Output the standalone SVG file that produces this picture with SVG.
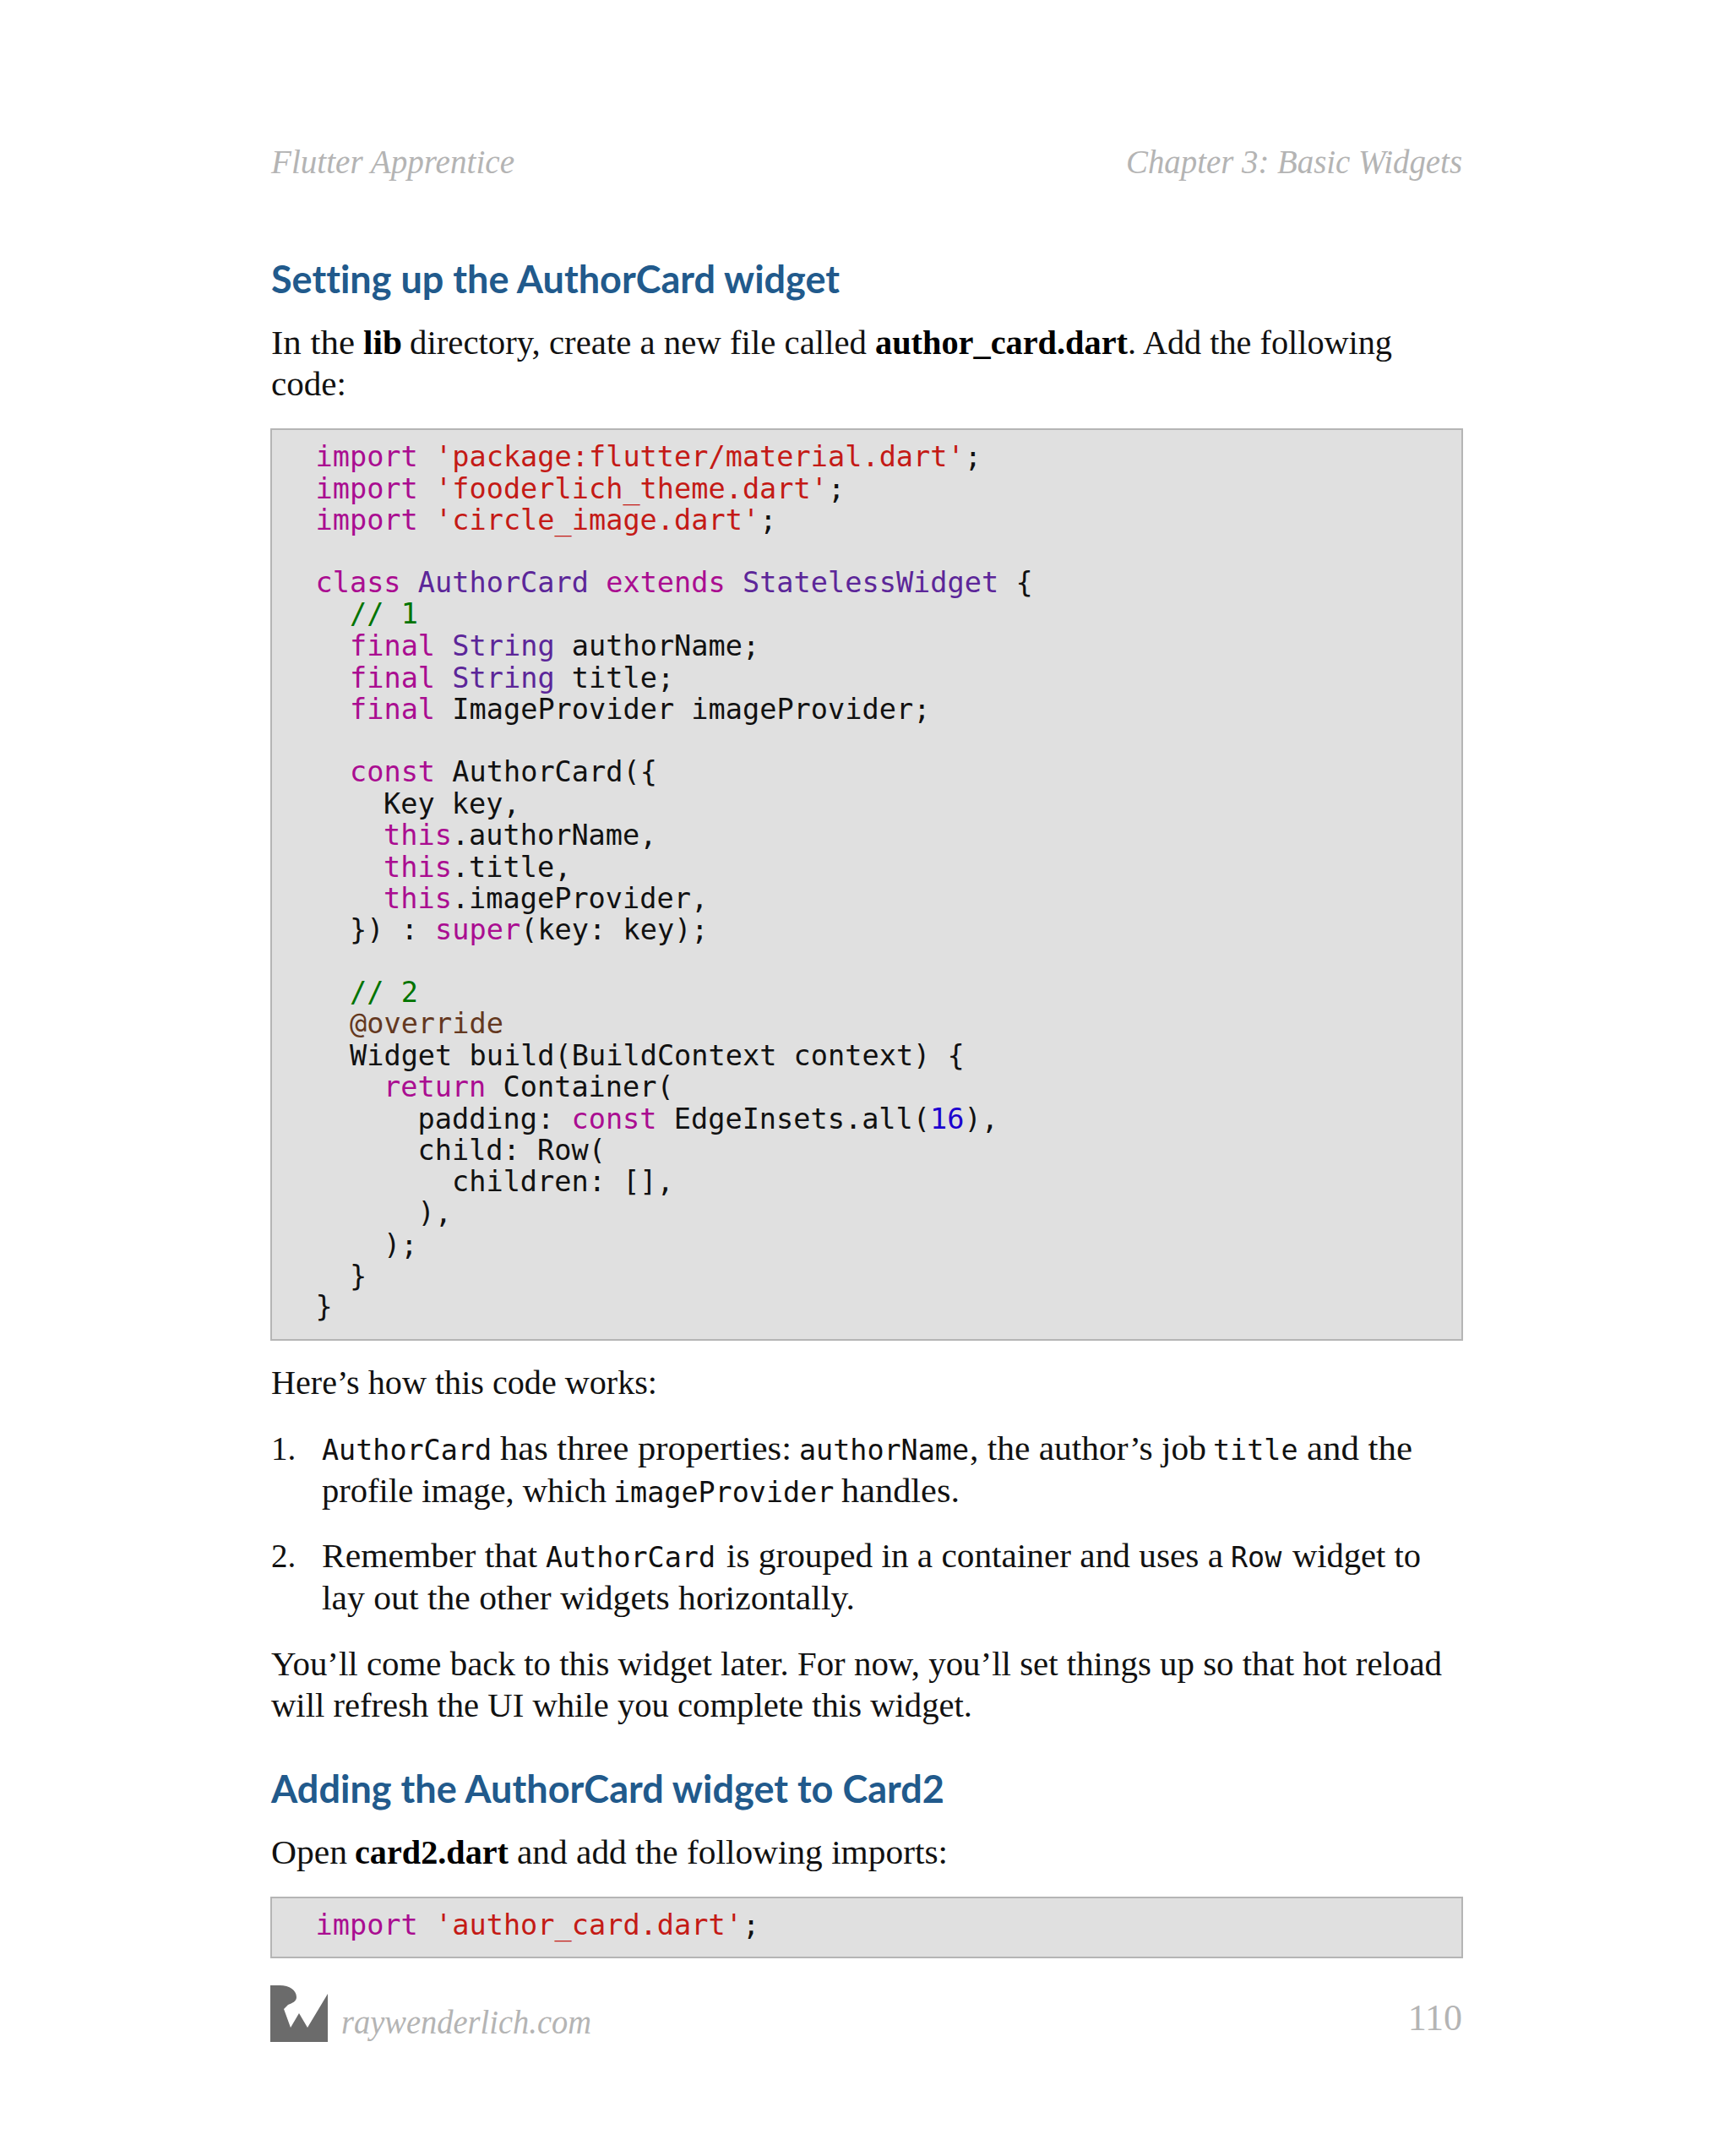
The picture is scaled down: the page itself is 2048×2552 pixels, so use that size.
<svg xmlns="http://www.w3.org/2000/svg" width="2048" height="2552" viewBox="0 0 2048 2552">
<style>
.b{font-family:"Liberation Serif",serif;font-size:39px;fill:#111}
.bb{font-family:"Liberation Serif",serif;font-size:39px;font-weight:700;fill:#000}
.m{font-family:"DejaVu Sans Mono",monospace;font-size:33.6px;fill:#111}
.i{font-family:"DejaVu Sans Mono",monospace;font-size:33.4px;fill:#111}
.h{font-family:Lato,sans-serif;font-size:46px;font-weight:700;fill:#215a8c;font-variant-ligatures:none}
.g{font-family:"Liberation Serif",serif;font-size:39px;font-style:italic;fill:#b4b4b4}
.box{fill:#e0e0e0;stroke:#b5b5b5;stroke-width:2}
.k{fill:#aa0d91}.s{fill:#c41a16}.c{fill:#007400}.t{fill:#5c2699}.n{fill:#1c00cf}.a{fill:#643820}
</style>
<rect width="2048" height="2552" fill="#fff"/>
<g id="page-header">
<text class="g" x="321" y="205" textLength="288" lengthAdjust="spacingAndGlyphs">Flutter Apprentice</text>
<text class="g" x="1333" y="205" textLength="398" lengthAdjust="spacingAndGlyphs">Chapter 3: Basic Widgets</text>
</g>
<g id="section-1">
<text class="h" x="321" y="347" textLength="673" lengthAdjust="spacingAndGlyphs">Setting up the AuthorCard widget</text>
<text class="b" x="321" y="419" textLength="99" lengthAdjust="spacingAndGlyphs">In the</text>
<text class="bb" x="430" y="419" textLength="46" lengthAdjust="spacingAndGlyphs">lib</text>
<text class="b" x="485" y="419" textLength="541" lengthAdjust="spacingAndGlyphs">directory, create a new file called</text>
<text class="bb" x="1036" y="419" textLength="299" lengthAdjust="spacingAndGlyphs">author_card.dart</text>
<text class="b" x="1335" y="419" textLength="313" lengthAdjust="spacingAndGlyphs">. Add the following</text>
<text class="b" x="321" y="468" textLength="89" lengthAdjust="spacingAndGlyphs">code:</text>
</g>
<g id="code-block-1">
<rect class="box" x="321" y="508" width="1410" height="1078"/>
<text class="m" x="373.5" y="552"><tspan class="k">import</tspan> <tspan class="s">'package:flutter/material.dart'</tspan>;</text>
<text class="m" x="373.5" y="590"><tspan class="k">import</tspan> <tspan class="s">'fooderlich_theme.dart'</tspan>;</text>
<text class="m" x="373.5" y="627"><tspan class="k">import</tspan> <tspan class="s">'circle_image.dart'</tspan>;</text>
<text class="m" x="373.5" y="701"><tspan class="k">class</tspan> <tspan class="t">AuthorCard</tspan> <tspan class="k">extends</tspan> <tspan class="t">StatelessWidget</tspan> {</text>
<text class="m c" x="414" y="738">// 1</text>
<text class="m" x="414" y="776"><tspan class="k">final</tspan> <tspan class="t">String</tspan> authorName;</text>
<text class="m" x="414" y="814"><tspan class="k">final</tspan> <tspan class="t">String</tspan> title;</text>
<text class="m" x="414" y="851"><tspan class="k">final</tspan> ImageProvider imageProvider;</text>
<text class="m" x="414" y="925"><tspan class="k">const</tspan> AuthorCard({</text>
<text class="m" x="454" y="963">Key key,</text>
<text class="m" x="454" y="1000"><tspan class="k">this</tspan>.authorName,</text>
<text class="m" x="454" y="1038"><tspan class="k">this</tspan>.title,</text>
<text class="m" x="454" y="1075"><tspan class="k">this</tspan>.imageProvider,</text>
<text class="m" x="414" y="1112">}) : <tspan class="k">super</tspan>(key: key);</text>
<text class="m c" x="414" y="1186">// 2</text>
<text class="m a" x="414" y="1223">@override</text>
<text class="m" x="414" y="1261">Widget build(BuildContext context) {</text>
<text class="m" x="454" y="1298"><tspan class="k">return</tspan> Container(</text>
<text class="m" x="494.5" y="1336">padding: <tspan class="k">const</tspan> EdgeInsets.all(<tspan class="n">16</tspan>),</text>
<text class="m" x="494.5" y="1373">child: Row(</text>
<text class="m" x="535" y="1410">children: [],</text>
<text class="m" x="494.5" y="1447">),</text>
<text class="m" x="454" y="1485">);</text>
<text class="m" x="414" y="1522">}</text>
<text class="m" x="373.5" y="1558">}</text>
</g>
<g id="explanation">
<text class="b" x="321" y="1650" textLength="457" lengthAdjust="spacingAndGlyphs">Here’s how this code works:</text>
<text class="b" x="321" y="1728">1.</text>
<text class="i" x="381" y="1728">AuthorCard</text>
<text class="b" x="592" y="1728" textLength="345" lengthAdjust="spacingAndGlyphs">has three properties:</text>
<text class="i" x="946" y="1728">authorName</text>
<text class="b" x="1148" y="1728" textLength="280" lengthAdjust="spacingAndGlyphs">, the author’s job</text>
<text class="i" x="1436" y="1728">title</text>
<text class="b" x="1547" y="1728" textLength="125" lengthAdjust="spacingAndGlyphs">and the</text>
<text class="b" x="381" y="1778" textLength="337" lengthAdjust="spacingAndGlyphs">profile image, which</text>
<text class="i" x="726" y="1778">imageProvider</text>
<text class="b" x="996" y="1778" textLength="140" lengthAdjust="spacingAndGlyphs">handles.</text>
<text class="b" x="321" y="1855">2.</text>
<text class="b" x="381" y="1855" textLength="255" lengthAdjust="spacingAndGlyphs">Remember that</text>
<text class="i" x="646" y="1855">AuthorCard</text>
<text class="b" x="860" y="1855" textLength="588" lengthAdjust="spacingAndGlyphs">is grouped in a container and uses a</text>
<text class="i" x="1457" y="1855">Row</text>
<text class="b" x="1530" y="1855" textLength="152" lengthAdjust="spacingAndGlyphs">widget to</text>
<text class="b" x="381" y="1905" textLength="631" lengthAdjust="spacingAndGlyphs">lay out the other widgets horizontally.</text>
<text class="b" x="321" y="1983" textLength="1386" lengthAdjust="spacingAndGlyphs">You’ll come back to this widget later. For now, you’ll set things up so that hot reload</text>
<text class="b" x="321" y="2032" textLength="830" lengthAdjust="spacingAndGlyphs">will refresh the UI while you complete this widget.</text>
</g>
<g id="section-2">
<text class="h" x="321" y="2134" textLength="797" lengthAdjust="spacingAndGlyphs">Adding the AuthorCard widget to Card2</text>
<text class="b" x="321" y="2206" textLength="90" lengthAdjust="spacingAndGlyphs">Open</text>
<text class="bb" x="420" y="2206" textLength="182" lengthAdjust="spacingAndGlyphs">card2.dart</text>
<text class="b" x="612" y="2206" textLength="510" lengthAdjust="spacingAndGlyphs">and add the following imports:</text>
</g>
<g id="code-block-2">
<rect class="box" x="321" y="2246" width="1410" height="71"/>
<text class="m" x="373.5" y="2290"><tspan class="k">import</tspan> <tspan class="s">'author_card.dart'</tspan>;</text>
</g>
<g id="page-footer">
<path id="logo" fill="#6b6b6b" d="M320 2350H331C343 2350 351 2356 351 2364C351 2369 346 2371 341 2373L336 2378L344 2400L354 2383L364 2400L388 2360V2417H320Z"/>
<text class="g" x="404" y="2407" textLength="296" lengthAdjust="spacingAndGlyphs">raywenderlich.com</text>
<text x="1731" y="2403" text-anchor="end" style="font-family:'Liberation Serif',serif;font-size:44px;fill:#b4b4b4">110</text>
</g>
</svg>
